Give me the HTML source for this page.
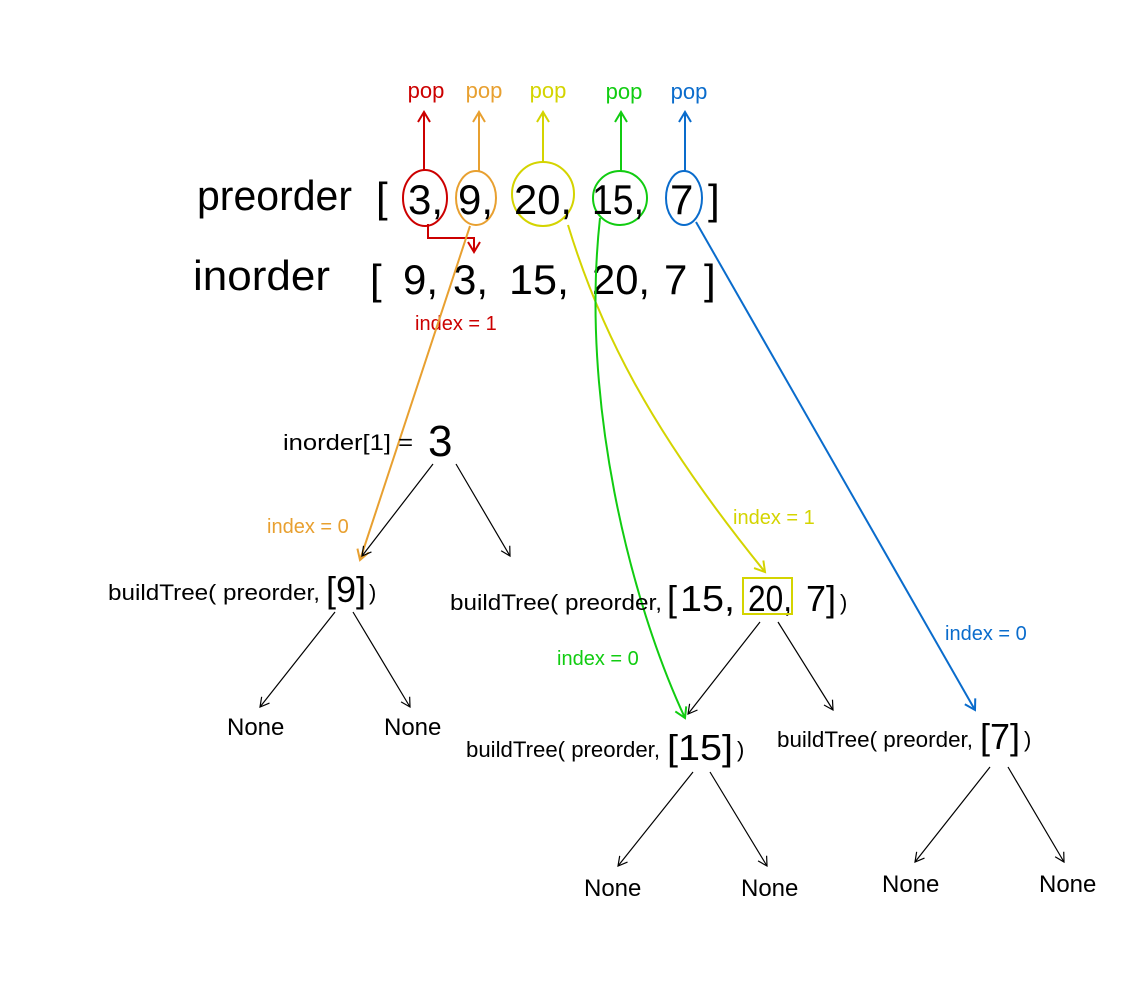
<!DOCTYPE html>
<html><head><meta charset="utf-8"><style>
html,body{margin:0;padding:0;background:#fff;}
svg{display:block;}
text{font-family:"Liberation Sans",sans-serif;}
</style></head><body>
<svg width="1140" height="1000" viewBox="0 0 1140 1000" xmlns="http://www.w3.org/2000/svg">
<defs>
<marker id="ab" markerWidth="12" markerHeight="12" refX="10" refY="6" orient="auto" markerUnits="userSpaceOnUse"><path d="M1,1 L10,6 L1,11" fill="none" stroke="#000" stroke-width="1.2"/></marker>
<marker id="ar" markerWidth="14" markerHeight="14" refX="11" refY="7" orient="auto" markerUnits="userSpaceOnUse"><path d="M1,1 L11,7 L1,13" fill="none" stroke="#cc0000" stroke-width="2"/></marker>
<marker id="ao" markerWidth="14" markerHeight="14" refX="11" refY="7" orient="auto" markerUnits="userSpaceOnUse"><path d="M1,1 L11,7 L1,13" fill="none" stroke="#e8a030" stroke-width="2"/></marker>
<marker id="ay" markerWidth="14" markerHeight="14" refX="11" refY="7" orient="auto" markerUnits="userSpaceOnUse"><path d="M1,1 L11,7 L1,13" fill="none" stroke="#d4d400" stroke-width="2"/></marker>
<marker id="ag" markerWidth="14" markerHeight="14" refX="11" refY="7" orient="auto" markerUnits="userSpaceOnUse"><path d="M1,1 L11,7 L1,13" fill="none" stroke="#11cc11" stroke-width="2"/></marker>
<marker id="abl" markerWidth="14" markerHeight="14" refX="11" refY="7" orient="auto" markerUnits="userSpaceOnUse"><path d="M1,1 L11,7 L1,13" fill="none" stroke="#0a6ccc" stroke-width="2"/></marker>
</defs>

<g font-size="22">
<text x="426" y="98" fill="#cc0000" text-anchor="middle">pop</text>
<text x="484" y="98" fill="#e8a030" text-anchor="middle">pop</text>
<text x="548" y="98" fill="#d4d400" text-anchor="middle">pop</text>
<text x="624" y="99" fill="#11cc11" text-anchor="middle">pop</text>
<text x="689" y="99" fill="#0a6ccc" text-anchor="middle">pop</text>
</g>
<g stroke-width="2" fill="none">
<line x1="424" y1="170" x2="424" y2="112" stroke="#cc0000" marker-end="url(#ar)"/>
<line x1="479" y1="171" x2="479" y2="112" stroke="#e8a030" marker-end="url(#ao)"/>
<line x1="543" y1="162" x2="543" y2="112" stroke="#d4d400" marker-end="url(#ay)"/>
<line x1="621" y1="171" x2="621" y2="112" stroke="#11cc11" marker-end="url(#ag)"/>
<line x1="685" y1="171" x2="685" y2="112" stroke="#0a6ccc" marker-end="url(#abl)"/>
<ellipse cx="425" cy="198" rx="22" ry="28" stroke="#cc0000"/>
<ellipse cx="476" cy="198" rx="20" ry="27" stroke="#e8a030"/>
<ellipse cx="543" cy="194" rx="31" ry="32" stroke="#d4d400"/>
<ellipse cx="620" cy="198" rx="27" ry="27" stroke="#11cc11"/>
<ellipse cx="684" cy="198" rx="18" ry="27" stroke="#0a6ccc"/>
</g>

<g font-size="42">
<text x="197" y="210" textLength="155" lengthAdjust="spacingAndGlyphs">preorder</text>
<text x="376" y="212">[</text>
<text x="408" y="214">3,</text>
<text x="458" y="214">9,</text>
<text x="514" y="214" textLength="58" lengthAdjust="spacingAndGlyphs">20,</text>
<text x="592" y="214" textLength="52" lengthAdjust="spacingAndGlyphs">15,</text>
<text x="670" y="214">7</text>
<text x="708" y="214">]</text>

<text x="193" y="290" textLength="137" lengthAdjust="spacingAndGlyphs">inorder</text>
<text x="370" y="294">[</text>
<text x="403" y="294">9,</text>
<text x="453" y="294">3,</text>
<text x="509" y="294" textLength="60" lengthAdjust="spacingAndGlyphs">15,</text>
<text x="592" y="294" textLength="58" lengthAdjust="spacingAndGlyphs">20,</text>
<text x="664" y="294">7</text>
<text x="704" y="294">]</text>
</g>

<path d="M428,224 L428,238 L474,238 L474,252" stroke="#cc0000" stroke-width="2" fill="none" marker-end="url(#ar)"/>
<text x="415" y="330" font-size="20" fill="#cc0000">index = 1</text>

<line x1="470" y1="226" x2="360" y2="560" stroke="#e8a030" stroke-width="2" marker-end="url(#ao)"/>
<path d="M568,225 C600,330 650,430 765,572" stroke="#d4d400" stroke-width="2" fill="none" marker-end="url(#ay)"/>
<path d="M600,218 C580,400 630,600 685,718" stroke="#11cc11" stroke-width="2" fill="none" marker-end="url(#ag)"/>
<line x1="696" y1="222" x2="975" y2="710" stroke="#0a6ccc" stroke-width="2" marker-end="url(#abl)"/>

<text x="283" y="450" font-size="22" textLength="130" lengthAdjust="spacingAndGlyphs">inorder[1] =</text>
<text x="428" y="456" font-size="44">3</text>

<g stroke="#000" stroke-width="1.2" marker-end="url(#ab)">
<line x1="433" y1="464" x2="362" y2="556"/>
<line x1="456" y1="464" x2="510" y2="556"/>
<line x1="335" y1="612" x2="260" y2="707"/>
<line x1="353" y1="612" x2="410" y2="707"/>
<line x1="760" y1="622" x2="688" y2="714"/>
<line x1="778" y1="622" x2="833" y2="710"/>
<line x1="693" y1="772" x2="618" y2="866"/>
<line x1="710" y1="772" x2="767" y2="866"/>
<line x1="990" y1="767" x2="915" y2="862"/>
<line x1="1008" y1="767" x2="1064" y2="862"/>
</g>

<text x="267" y="533" font-size="20" fill="#e8a030">index = 0</text>
<text x="733" y="524" font-size="20" fill="#d4d400">index = 1</text>
<text x="557" y="665" font-size="20" fill="#11cc11">index = 0</text>
<text x="945" y="640" font-size="20" fill="#0a6ccc">index = 0</text>

<text x="108" y="600" font-size="22" textLength="212" lengthAdjust="spacingAndGlyphs">buildTree( preorder,</text>
<text x="326" y="602" font-size="36">[9]</text>
<text x="369" y="600" font-size="22">)</text>

<text x="450" y="610" font-size="22" textLength="212" lengthAdjust="spacingAndGlyphs">buildTree( preorder,</text>
<g font-size="36">
<text x="667" y="611">[</text>
<text x="680" y="611" textLength="55" lengthAdjust="spacingAndGlyphs">15,</text>
<text x="748" y="611" textLength="44" lengthAdjust="spacingAndGlyphs">20,</text>
<text x="806" y="611">7]</text>
</g>
<text x="840" y="610" font-size="22">)</text>
<rect x="743" y="578" width="49" height="36" fill="none" stroke="#d4d400" stroke-width="2"/>

<text x="466" y="757" font-size="22" textLength="194" lengthAdjust="spacingAndGlyphs">buildTree( preorder,</text>
<text x="667" y="760" font-size="36" textLength="66" lengthAdjust="spacingAndGlyphs">[15]</text>
<text x="737" y="757" font-size="22">)</text>

<text x="777" y="747" font-size="22" textLength="196" lengthAdjust="spacingAndGlyphs">buildTree( preorder,</text>
<text x="980" y="749" font-size="36">[7]</text>
<text x="1024" y="747" font-size="22">)</text>

<g font-size="24">
<text x="227" y="735">None</text>
<text x="384" y="735">None</text>
<text x="584" y="896">None</text>
<text x="741" y="896">None</text>
<text x="882" y="892">None</text>
<text x="1039" y="892">None</text>
</g>
</svg>
</body></html>
